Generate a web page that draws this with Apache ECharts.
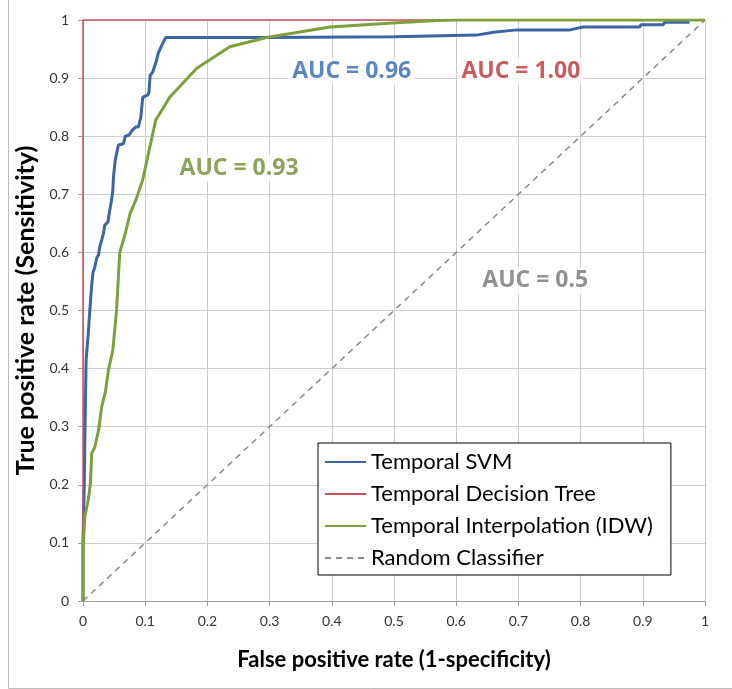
<!DOCTYPE html>
<html>
<head>
<meta charset="utf-8">
<script src="https://cdn.jsdelivr.net/npm/echarts@6/dist/echarts.min.js"></script>
<style>
html,body{margin:0;padding:0;background:#fff;}
#chart{width:732px;height:689px;}
</style>
</head>
<body>
<div id="chart"></div>
<script>
// ---- Data ----
var svmFPR = [0,0,0.002,0.003,0.004,0.005,0.0085,0.011,0.014,0.016,0.019,0.022,0.025,0.027,0.030,0.033,0.035,0.040,0.043,0.046,0.048,0.049,0.052,0.054,0.057,0.065,0.068,0.074,0.079,0.085,0.089,0.093,0.096,0.104,0.106,0.108,0.112,0.118,0.121,0.126,0.133,0.30,0.50,0.633,0.66,0.697,0.783,0.804,0.895,0.897,0.933,0.935,0.975];
var svmTPR = [0,0.10,0.20,0.28,0.35,0.415,0.461,0.501,0.544,0.565,0.575,0.59,0.596,0.61,0.621,0.633,0.647,0.652,0.673,0.69,0.707,0.73,0.76,0.77,0.785,0.787,0.80,0.802,0.81,0.816,0.816,0.833,0.867,0.871,0.875,0.905,0.91,0.93,0.943,0.955,0.970,0.970,0.971,0.974,0.979,0.983,0.983,0.988,0.988,0.992,0.992,0.996,0.996];
var dtFPR = [0,0,1];
var dtTPR = [0,1,1];
var idwFPR = [0,0,0.003,0.0085,0.012,0.014,0.019,0.025,0.030,0.036,0.041,0.048,0.054,0.059,0.068,0.076,0.085,0.096,0.117,0.140,0.183,0.236,0.295,0.397,0.499,0.569,0.60,1];
var idwTPR = [0,0.088,0.145,0.174,0.203,0.254,0.265,0.294,0.334,0.36,0.398,0.432,0.501,0.599,0.633,0.668,0.69,0.725,0.828,0.868,0.917,0.954,0.970,0.988,0.995,0.999,1,1];
var randFPR = [0,1];
var randTPR = [0,1];
var seriesNames = ['Temporal SVM','Temporal Decision Tree','Temporal Interpolation (IDW)','Random Classifier'];
var aucTexts = ['AUC = 0.96','AUC = 1.00','AUC = 0.93','AUC = 0.5'];
var aucX = [0.432,0.704,0.251,0.727];
var aucY = [0.912,0.912,0.745,0.551];

function zip(a,b){return a.map(function(v,i){return [v,b[i]];});}
function fmt(v){return String(Math.round(v*10)/10);}

var FONT = 'Lato';
var colors = {svm:'#3b65a3', dt:'#c9505a', idw:'#7ea03c', rand:'#8a8a8a'};
var textColors = ['#3566b0','#bb3336','#6f8c33','#757575'];

var chart = echarts.init(document.getElementById('chart'), null, {renderer:'canvas'});
var option = {
  backgroundColor:'#ffffff',
  animation:false,
  textStyle:{fontFamily:FONT},
  grid:{left:83, right:27, top:20, bottom:88, containLabel:false},
  xAxis:{
    type:'value', min:0, max:1, interval:0.1,
    name:'False positive rate (1-specificity)', nameLocation:'middle', nameGap:48,
    nameTextStyle:{fontFamily:FONT, fontWeight:'bold', fontSize:22, color:'#000'},
    axisLine:{show:true, lineStyle:{color:'#a0a0a0', width:1}},
    axisTick:{show:true, length:5, lineStyle:{color:'#a0a0a0'}},
    splitLine:{show:true, lineStyle:{color:'#cccccc', width:1}},
    axisLabel:{fontFamily:FONT, fontSize:14, color:'#333', margin:13, formatter:fmt}
  },
  yAxis:{
    type:'value', min:0, max:1, interval:0.1,
    name:'True positive rate (Sensitivity)', nameLocation:'middle', nameGap:31,
    nameTextStyle:{fontFamily:FONT, fontWeight:'bold', fontSize:25, color:'#000'},
    axisLine:{show:true, lineStyle:{color:'#a0a0a0', width:1}},
    axisTick:{show:true, length:5, lineStyle:{color:'#a0a0a0'}},
    splitLine:{show:true, lineStyle:{color:'#cccccc', width:1}},
    axisLabel:{fontFamily:FONT, fontSize:14, color:'#333', margin:14, formatter:fmt}
  },
  legend:{
    data:seriesNames,
    orient:'vertical', left:318, top:443,
    backgroundColor:'#fff', borderColor:'#000', borderWidth:1,
    padding:[8,18,6,6],
    itemWidth:41, itemHeight:14, itemGap:10,
    itemStyle:{opacity:0},
    textStyle:{fontFamily:FONT, fontSize:22, color:'#000', lineHeight:22},
    selectedMode:false
  },
  series:[
    {name:seriesNames[3], type:'line', data:zip(randFPR,randTPR), symbol:'none', z:2,
     lineStyle:{color:colors.rand, width:1.5, type:[6,5]}, itemStyle:{color:colors.rand}},
    {name:seriesNames[0], type:'line', data:zip(svmFPR,svmTPR), symbol:'none', z:3,
     lineStyle:{color:colors.svm, width:3}, itemStyle:{color:colors.svm}},
    {name:seriesNames[1], type:'line', data:zip(dtFPR,dtTPR), symbol:'none', z:4, clip:false,
     lineStyle:{color:colors.dt, width:1.5}, itemStyle:{color:colors.dt}},
    {name:seriesNames[2], type:'line', data:zip(idwFPR,idwTPR), symbol:'none', z:5,
     lineStyle:{color:colors.idw, width:3}, itemStyle:{color:colors.idw}},
    {name:'auc', type:'scatter', z:6, symbolSize:0, itemStyle:{color:'rgba(0,0,0,0)'}, silent:true,
     data:aucTexts.map(function(t,i){return {value:[aucX[i],aucY[i]], label:{formatter:t, color:textColors[i]}};}),
     label:{show:true, position:'inside', fontFamily:'Open Sans', fontWeight:'bold', fontSize:23,
            backgroundColor:'#fff', padding:[2,4]}}
  ],
  graphic:[
    {type:'rect', silent:true, z:-1, shape:{x:8.5, y:-10, width:740, height:698.5},
     style:{fill:'none', stroke:'#bdbdbd', lineWidth:1}}
  ]
};
chart.setOption(option);
</script>
</body>
</html>
